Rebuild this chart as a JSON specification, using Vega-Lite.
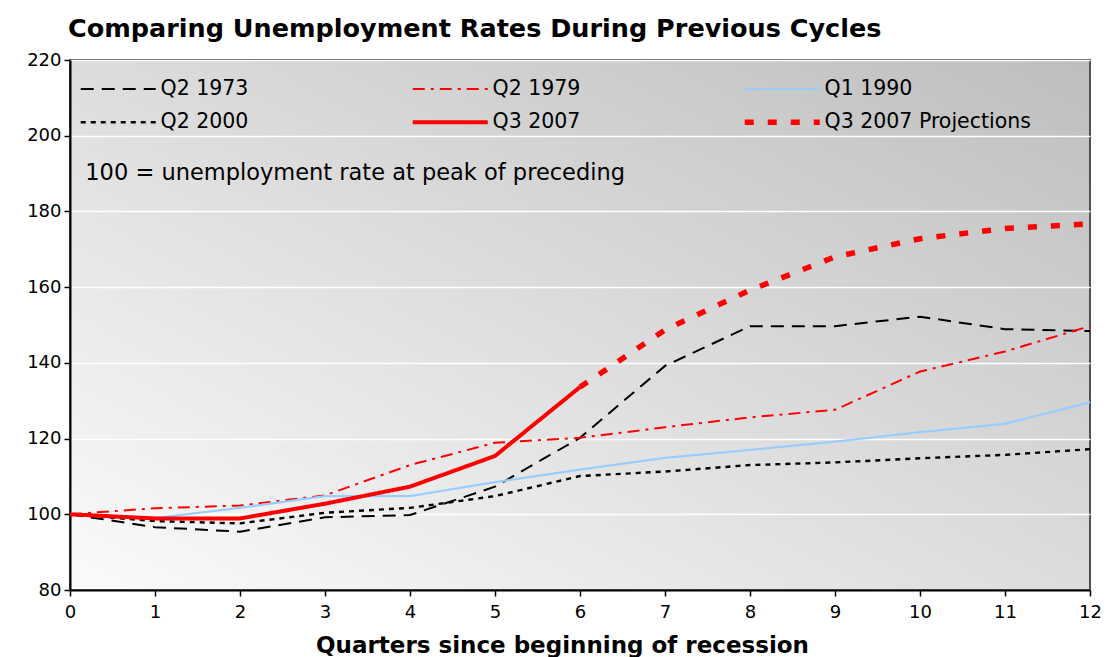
{
  "$schema": "https://vega.github.io/schema/vega-lite/v6.json",
  "width": 1020,
  "height": 530,
  "autosize": {"type": "none"},
  "padding": {"left": 70, "top": 60, "right": 17, "bottom": 67},
  "background": "white",
  "title": {
    "text": "Comparing Unemployment Rates During Previous Cycles",
    "anchor": "start",
    "frame": "group",
    "font": "DejaVu Sans",
    "fontSize": 25.5,
    "fontWeight": "bold",
    "color": "black",
    "offset": 9,
    "dx": -2
  },
  "config": {
    "view": {
      "fill": {
        "gradient": "linear",
        "x1": 0, "y1": 1, "x2": 1, "y2": 0,
        "stops": [
          {"offset": 0, "color": "#fbfbfb"},
          {"offset": 1, "color": "#bebebe"}
        ]
      },
      "stroke": "#505050",
      "strokeWidth": 2
    },
    "font": "DejaVu Sans"
  },
  "data": {
    "values": [
      {"s": "Q2 1973", "q": 0, "v": 100}, {"s": "Q2 1973", "q": 1, "v": 96.6}, {"s": "Q2 1973", "q": 2, "v": 95.4},
      {"s": "Q2 1973", "q": 3, "v": 99.2}, {"s": "Q2 1973", "q": 4, "v": 99.8}, {"s": "Q2 1973", "q": 5, "v": 107.3},
      {"s": "Q2 1973", "q": 6, "v": 120.2}, {"s": "Q2 1973", "q": 7, "v": 139.2}, {"s": "Q2 1973", "q": 8, "v": 149.7},
      {"s": "Q2 1973", "q": 9, "v": 149.7}, {"s": "Q2 1973", "q": 10, "v": 152.2}, {"s": "Q2 1973", "q": 11, "v": 148.9},
      {"s": "Q2 1973", "q": 12, "v": 148.4},
      {"s": "Q2 1979", "q": 0, "v": 100}, {"s": "Q2 1979", "q": 1, "v": 101.6}, {"s": "Q2 1979", "q": 2, "v": 102.3},
      {"s": "Q2 1979", "q": 3, "v": 105}, {"s": "Q2 1979", "q": 4, "v": 113}, {"s": "Q2 1979", "q": 5, "v": 118.9},
      {"s": "Q2 1979", "q": 6, "v": 120.2}, {"s": "Q2 1979", "q": 7, "v": 123}, {"s": "Q2 1979", "q": 8, "v": 125.6},
      {"s": "Q2 1979", "q": 9, "v": 127.6}, {"s": "Q2 1979", "q": 10, "v": 137.7}, {"s": "Q2 1979", "q": 11, "v": 143},
      {"s": "Q2 1979", "q": 12, "v": 149.7},
      {"s": "Q1 1990", "q": 0, "v": 100}, {"s": "Q1 1990", "q": 1, "v": 99}, {"s": "Q1 1990", "q": 2, "v": 101.7},
      {"s": "Q1 1990", "q": 3, "v": 104.8}, {"s": "Q1 1990", "q": 4, "v": 104.8}, {"s": "Q1 1990", "q": 5, "v": 108.5},
      {"s": "Q1 1990", "q": 6, "v": 111.8}, {"s": "Q1 1990", "q": 7, "v": 114.9}, {"s": "Q1 1990", "q": 8, "v": 117},
      {"s": "Q1 1990", "q": 9, "v": 119.2}, {"s": "Q1 1990", "q": 10, "v": 121.7}, {"s": "Q1 1990", "q": 11, "v": 123.9},
      {"s": "Q1 1990", "q": 12, "v": 129.6},
      {"s": "Q2 2000", "q": 0, "v": 100}, {"s": "Q2 2000", "q": 1, "v": 98.2}, {"s": "Q2 2000", "q": 2, "v": 97.6},
      {"s": "Q2 2000", "q": 3, "v": 100.4}, {"s": "Q2 2000", "q": 4, "v": 101.7}, {"s": "Q2 2000", "q": 5, "v": 104.8},
      {"s": "Q2 2000", "q": 6, "v": 110.1}, {"s": "Q2 2000", "q": 7, "v": 111.3}, {"s": "Q2 2000", "q": 8, "v": 113},
      {"s": "Q2 2000", "q": 9, "v": 113.7}, {"s": "Q2 2000", "q": 10, "v": 114.8}, {"s": "Q2 2000", "q": 11, "v": 115.7},
      {"s": "Q2 2000", "q": 12, "v": 117.2},
      {"s": "Q3 2007", "q": 0, "v": 100}, {"s": "Q3 2007", "q": 1, "v": 98.9}, {"s": "Q3 2007", "q": 2, "v": 98.9},
      {"s": "Q3 2007", "q": 3, "v": 102.8}, {"s": "Q3 2007", "q": 4, "v": 107.3}, {"s": "Q3 2007", "q": 5, "v": 115.4},
      {"s": "Q3 2007", "q": 6, "v": 133.6},
      {"s": "Q3 2007 Projections", "q": 6, "v": 133.6}, {"s": "Q3 2007 Projections", "q": 7, "v": 148.7},
      {"s": "Q3 2007 Projections", "q": 8, "v": 159.2}, {"s": "Q3 2007 Projections", "q": 9, "v": 168},
      {"s": "Q3 2007 Projections", "q": 10, "v": 172.8}, {"s": "Q3 2007 Projections", "q": 11, "v": 175.5},
      {"s": "Q3 2007 Projections", "q": 12, "v": 176.7}
    ]
  },
  "encoding": {
    "x": {
      "field": "q", "type": "quantitative",
      "scale": {"domain": [0, 12], "nice": false, "zero": false},
      "axis": {
        "values": [0, 1, 2, 3, 4, 5, 6, 7, 8, 9, 10, 11, 12],
        "format": "d",
        "title": "Quarters since beginning of recession",
        "titleFont": "DejaVu Sans", "titleFontSize": 23, "titleFontWeight": "bold", "titleColor": "black",
        "titlePadding": 13,
        "titleX": 492,
        "labelFont": "DejaVu Sans", "labelFontSize": 18, "labelColor": "black", "labelPadding": 7,
        "labelFlush": false,
        "tickSize": 6, "tickColor": "black", "tickWidth": 1.5,
        "domainColor": "black", "domainWidth": 2,
        "grid": false
      }
    },
    "y": {
      "field": "v", "type": "quantitative",
      "scale": {"domain": [80, 220], "nice": false, "zero": false},
      "axis": {
        "values": [80, 100, 120, 140, 160, 180, 200, 220],
        "title": null,
        "labelFont": "DejaVu Sans", "labelFontSize": 18, "labelColor": "black", "labelPadding": 3,
        "tickSize": 6, "tickColor": "black", "tickWidth": 1.5,
        "domainColor": "black", "domainWidth": 2,
        "grid": true, "gridColor": "white", "gridWidth": 1.5
      }
    },
    "color": {
      "field": "s", "type": "nominal",
      "scale": {
        "domain": ["Q2 1973", "Q2 2000", "Q2 1979", "Q3 2007", "Q1 1990", "Q3 2007 Projections"],
        "range": ["#000000", "#000000", "#ff0000", "#ff0000", "#99ccff", "#ff0000"]
      },
      "legend": {
        "title": null,
        "orient": "none",
        "legendX": 13,
        "legendY": 18,
        "columns": 3,
        "gridAlign": "all",
        "columnPadding": 34,
        "rowPadding": 11,
        "symbolType": "M-1,0H5",
        "symbolSize": 625,
        "symbolStrokeWidth": 2,
        "labelFont": "DejaVu Sans",
        "labelFontSize": 20.5,
        "labelColor": "black",
        "labelOffset": 57,
        "labelLimit": 400,
        "padding": 0,
        "encode": {
          "symbols": {
            "update": {
              "strokeWidth": {"signal": "datum.value === 'Q3 2007' ? 4 : datum.value === 'Q3 2007 Projections' ? 5.5 : datum.value === 'Q2 2000' ? 2.4 : 2"}
            }
          }
        }
      }
    },
    "strokeDash": {
      "field": "s", "type": "nominal",
      "scale": {
        "domain": ["Q2 1973", "Q2 2000", "Q2 1979", "Q3 2007", "Q1 1990", "Q3 2007 Projections"],
        "range": [[13, 8], [5, 5], [12, 6, 3, 6], [1, 0], [1, 0], [9, 14]]
      }
    }
  },
  "layer": [
    {
      "transform": [{"filter": "datum.s === 'Q2 1973'"}],
      "mark": {"type": "line", "strokeWidth": 2, "strokeCap": "butt"}
    },
    {
      "transform": [{"filter": "datum.s === 'Q2 1979'"}],
      "mark": {"type": "line", "strokeWidth": 2, "strokeCap": "butt"}
    },
    {
      "transform": [{"filter": "datum.s === 'Q1 1990'"}],
      "mark": {"type": "line", "strokeWidth": 2.2, "strokeCap": "butt"}
    },
    {
      "transform": [{"filter": "datum.s === 'Q2 2000'"}],
      "mark": {"type": "line", "strokeWidth": 2.4, "strokeCap": "butt"}
    },
    {
      "transform": [{"filter": "datum.s === 'Q3 2007 Projections'"}],
      "mark": {"type": "line", "strokeWidth": 5.5, "strokeCap": "butt"}
    },
    {
      "transform": [{"filter": "datum.s === 'Q3 2007'"}],
      "mark": {"type": "line", "strokeWidth": 4, "strokeCap": "butt"}
    },
    {
      "data": {"values": [{"x": 0.18, "y": 190.2, "t": "100 = unemployment rate at peak of preceding"}]},
      "mark": {"type": "text", "align": "left", "baseline": "middle", "font": "DejaVu Sans", "fontSize": 22.5, "color": "black"},
      "encoding": {
        "x": {"field": "x", "type": "quantitative"},
        "y": {"field": "y", "type": "quantitative"},
        "text": {"field": "t"},
        "color": null,
        "strokeDash": null
      }
    }
  ]
}
